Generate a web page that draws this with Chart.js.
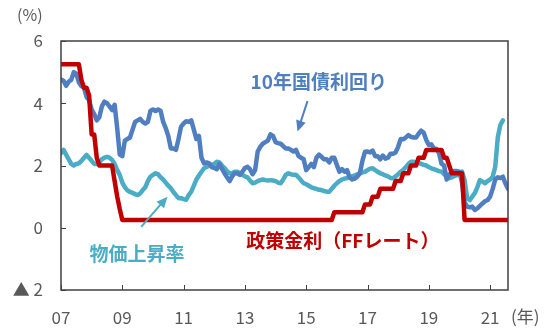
<!DOCTYPE html>
<html>
<head>
<meta charset="utf-8">
<script src="https://cdn.jsdelivr.net/npm/chart.js@4/dist/chart.umd.min.js"></script>
<style>
  html, body { margin: 0; padding: 0; background: #ffffff; }
  #wrap { width: 550px; height: 333px; }
</style>
</head>
<body>
<div id="wrap"><canvas id="c" width="550" height="333"></canvas></div>
<script>
// ---- data (monthly, index 0 = Jan 2007) ----
const xTickValues = [0, 24, 48, 72, 96, 120, 144, 168];
const xTickLabels = ["07", "09", "11", "13", "15", "17", "19", "21"];
const yTickValues = [-2, 0, 2, 4, 6];
const yTickLabels = ["▲ 2", "0", "2", "4", "6"];

// Policy rate (FF rate, upper bound), Jan 2007 - Aug 2021
const ffRate = [
  5.25,5.25,5.25,5.25,5.25,5.25,5.25,5.25,4.75,4.5,4.5,4.25,
  3.0,3.0,2.25,2.0,2.0,2.0,2.0,2.0,2.0,1.5,1.0,0.6,
  0.25,0.25,0.25,0.25,0.25,0.25,0.25,0.25,0.25,0.25,0.25,0.25,
  0.25,0.25,0.25,0.25,0.25,0.25,0.25,0.25,0.25,0.25,0.25,0.25,
  0.25,0.25,0.25,0.25,0.25,0.25,0.25,0.25,0.25,0.25,0.25,0.25,
  0.25,0.25,0.25,0.25,0.25,0.25,0.25,0.25,0.25,0.25,0.25,0.25,
  0.25,0.25,0.25,0.25,0.25,0.25,0.25,0.25,0.25,0.25,0.25,0.25,
  0.25,0.25,0.25,0.25,0.25,0.25,0.25,0.25,0.25,0.25,0.25,0.25,
  0.25,0.25,0.25,0.25,0.25,0.25,0.25,0.25,0.25,0.25,0.25,0.5,
  0.5,0.5,0.5,0.5,0.5,0.5,0.5,0.5,0.5,0.5,0.5,0.75,
  0.75,0.75,1.0,1.0,1.0,1.25,1.25,1.25,1.25,1.25,1.25,1.5,
  1.5,1.5,1.75,1.75,1.75,2.0,2.0,2.0,2.25,2.25,2.25,2.5,
  2.5,2.5,2.5,2.5,2.5,2.5,2.25,2.25,2.0,1.75,1.75,1.75,
  1.75,1.75,0.25,0.25,0.25,0.25,0.25,0.25,0.25,0.25,0.25,0.25,
  0.25,0.25,0.25,0.25,0.25,0.25,0.25,0.25
];

// 10-year Treasury yield, Jan 2007 - Aug 2021
const bondYield = [
  4.76,4.72,4.56,4.69,4.75,5.00,4.95,4.67,4.55,4.50,4.20,4.10,
  3.80,3.65,3.45,3.55,3.90,4.05,4.00,3.90,3.78,3.95,3.20,2.35,
  2.30,2.80,2.85,2.90,3.15,3.40,3.45,3.50,3.40,3.35,3.40,3.75,
  3.80,3.75,3.80,3.75,3.40,3.20,2.95,2.55,2.55,2.50,2.85,3.25,
  3.35,3.42,3.40,3.45,3.15,2.85,2.95,2.25,2.07,2.10,2.07,1.95,
  1.92,1.88,2.05,1.90,1.75,1.62,1.50,1.65,1.75,1.75,1.70,1.80,
  1.92,1.96,1.88,1.72,1.85,2.45,2.60,2.70,2.75,2.80,3.00,2.95,
  2.75,2.72,2.70,2.62,2.55,2.55,2.50,2.45,2.50,2.30,2.25,2.20,
  1.85,1.95,2.05,1.95,2.25,2.35,2.28,2.20,2.20,2.10,2.25,2.25,
  2.02,1.80,1.88,1.80,1.85,1.62,1.55,1.58,1.64,1.75,2.15,2.44,
  2.45,2.42,2.48,2.30,2.30,2.20,2.32,2.22,2.25,2.38,2.38,2.42,
  2.60,2.85,2.84,2.90,2.98,2.92,2.90,2.90,3.02,3.12,3.05,2.82,
  2.66,2.68,2.55,2.53,2.40,2.05,2.00,1.55,1.70,1.80,1.82,1.82,
  1.80,1.45,0.82,0.68,0.66,0.68,0.57,0.62,0.70,0.78,0.85,0.89,
  1.00,1.25,1.55,1.62,1.60,1.64,1.42,1.25
];

// Inflation rate (core PCE, y/y), Jan 2007 - Jun 2021
const inflation = [
  2.40,2.50,2.35,2.20,2.05,2.00,2.05,2.07,2.15,2.25,2.34,2.25,
  2.15,2.05,2.05,2.10,2.20,2.25,2.28,2.25,2.18,2.05,1.85,1.70,
  1.45,1.30,1.20,1.15,1.12,1.08,1.05,1.10,1.21,1.30,1.50,1.64,
  1.70,1.75,1.72,1.62,1.55,1.45,1.35,1.27,1.15,1.05,0.95,0.95,
  0.92,0.90,1.05,1.16,1.35,1.55,1.68,1.80,1.91,1.95,2.00,2.02,
  2.05,2.12,2.10,2.00,1.92,1.82,1.75,1.76,1.80,1.80,1.75,1.70,
  1.65,1.62,1.52,1.43,1.45,1.50,1.53,1.55,1.53,1.52,1.53,1.52,
  1.50,1.45,1.43,1.55,1.70,1.75,1.72,1.70,1.70,1.62,1.52,1.43,
  1.40,1.35,1.30,1.27,1.25,1.22,1.21,1.18,1.16,1.16,1.25,1.35,
  1.43,1.50,1.55,1.58,1.60,1.62,1.65,1.68,1.72,1.75,1.78,1.80,
  1.85,1.90,1.91,1.85,1.80,1.75,1.72,1.68,1.65,1.60,1.59,1.65,
  1.72,1.80,1.86,1.95,2.05,2.12,2.12,2.10,2.08,2.05,2.02,2.00,
  1.95,1.91,1.88,1.85,1.82,1.80,1.72,1.65,1.59,1.62,1.66,1.69,
  1.75,1.80,1.53,0.95,0.89,1.00,1.11,1.30,1.53,1.48,1.43,1.50,
  1.55,1.64,1.96,2.90,3.30,3.45
];

const seriesNames = ["政策金利（FFレート）", "10年国債利回り", "物価上昇率"];
const xMax = 175;

// ---- styling ----
const RED = "#C00000", BLUE = "#4F7FC0", TEAL = "#4BACC6";
const FONT = '"Noto Sans CJK JP", "Noto Sans", sans-serif';
const GRAY = "#595959";

const toPts = arr => arr.map((v, i) => ({ x: i, y: v }));

const overlay = {
  id: "overlay",
  afterDraw(chart) {
    const { ctx, chartArea: a, scales: { x, y } } = chart;
    ctx.save();
    // frame
    ctx.strokeStyle = "#404040";
    ctx.lineWidth = 1.5;
    ctx.strokeRect(a.left, a.top, a.right - a.left, a.bottom - a.top);
    // inward ticks
    ctx.lineWidth = 1;
    ctx.beginPath();
    yTickValues.forEach(v => {
      const py = Math.round(y.getPixelForValue(v)) + 0.5;
      ctx.moveTo(a.left, py); ctx.lineTo(a.left + 5, py);
    });
    xTickValues.forEach(v => {
      const px = Math.round(x.getPixelForValue(v)) + 0.5;
      ctx.moveTo(px, a.bottom); ctx.lineTo(px, a.bottom - 5);
    });
    ctx.stroke();

    // unit labels
    ctx.fillStyle = GRAY;
    ctx.font = "16px " + FONT;
    ctx.textBaseline = "middle";
    ctx.textAlign = "left";
    ctx.fillText("(%)", 17, 15);
    ctx.font = "17px " + FONT;
    ctx.fillText("(年)", 511, 317);

    // series annotations
    const label = (txt, color, mx, vy) => {
      ctx.fillStyle = color;
      ctx.font = "bold 19px " + FONT;
      ctx.textAlign = "left";
      ctx.textBaseline = "middle";
      ctx.fillText(txt, x.getPixelForValue(mx), y.getPixelForValue(vy));
    };
    const arrow = (color, m1, v1, m2, v2) => {
      const x1 = x.getPixelForValue(m1), y1 = y.getPixelForValue(v1);
      const x2 = x.getPixelForValue(m2), y2 = y.getPixelForValue(v2);
      const ang = Math.atan2(y2 - y1, x2 - x1);
      ctx.strokeStyle = color; ctx.fillStyle = color;
      ctx.lineWidth = 2;
      ctx.beginPath();
      ctx.moveTo(x1, y1);
      ctx.lineTo(x2 - 8 * Math.cos(ang), y2 - 8 * Math.sin(ang));
      ctx.stroke();
      ctx.beginPath();
      ctx.moveTo(x2, y2);
      ctx.lineTo(x2 - 11 * Math.cos(ang) + 5 * Math.sin(ang), y2 - 11 * Math.sin(ang) - 5 * Math.cos(ang));
      ctx.lineTo(x2 - 11 * Math.cos(ang) - 5 * Math.sin(ang), y2 - 11 * Math.sin(ang) + 5 * Math.cos(ang));
      ctx.closePath();
      ctx.fill();
    };
    label(seriesNames[1], BLUE, 74.2, 4.68);
    arrow(BLUE, 96.5, 4.07, 92.6, 3.09);
    label(seriesNames[2], TEAL, 11.2, -0.85);
    arrow(TEAL, 31.4, 0.03, 41.7, 1.0);
    label(seriesNames[0], RED, 72.5, -0.43);
    ctx.restore();
  }
};

new Chart(document.getElementById("c"), {
  type: "line",
  data: {
    datasets: [
      { label: seriesNames[0], data: toPts(ffRate), borderColor: RED, borderWidth: 4.5 },
      { label: seriesNames[1], data: toPts(bondYield), borderColor: BLUE, borderWidth: 4.5 },
      { label: seriesNames[2], data: toPts(inflation), borderColor: TEAL, borderWidth: 4.5 }
    ]
  },
  options: {
    responsive: false,
    animation: false,
    layout: { padding: { left: 0, top: 41, right: 42, bottom: 0 } },
    elements: {
      point: { radius: 0 },
      line: { tension: 0, borderJoinStyle: "round", borderCapStyle: "round" }
    },
    plugins: { legend: { display: false }, tooltip: { enabled: false } },
    scales: {
      x: {
        type: "linear", min: 0, max: xMax,
        grid: { display: false, drawTicks: false },
        border: { display: false },
        afterBuildTicks: s => { s.ticks = xTickValues.map(v => ({ value: v })); },
        afterFit: s => { s.height = 43; },
        ticks: {
          padding: 17, color: GRAY, font: { family: FONT, size: 17 },
          maxRotation: 0, autoSkip: false,
          callback: v => xTickLabels[xTickValues.indexOf(v)]
        }
      },
      y: {
        min: -2, max: 6,
        grid: { display: false, drawTicks: false },
        border: { display: false },
        afterBuildTicks: s => { s.ticks = yTickValues.map(v => ({ value: v })); },
        afterFit: s => { s.width = 61; },
        ticks: {
          padding: 18, color: GRAY, font: { family: FONT, size: 17 },
          callback: v => yTickLabels[yTickValues.indexOf(v)]
        }
      }
    }
  },
  plugins: [overlay]
});
</script>
</body>
</html>
